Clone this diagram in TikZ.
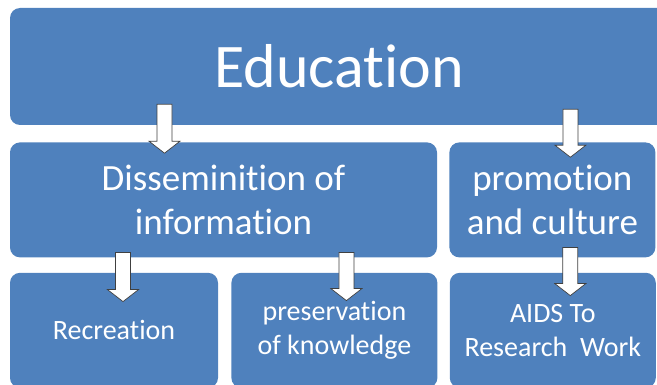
\documentclass[tikz,border=0pt]{standalone}
\usepackage{fontspec}
\setmainfont[Ligatures=NoCommon]{Carlito}
\usetikzlibrary{positioning,calc}

\definecolor{boxblue}{HTML}{4F81BD}
\definecolor{arrowline}{HTML}{404040}

% block arrow from start coordinate #1 down to tip coordinate #2
\newcommand{\blockarr}[2]{\draw[blockarrow] ($(#1)+(-7.5,0)$) -- ($(#2)+(-7.5,12)$) -- ($(#2)+(-15.5,12)$) -- (#2) -- ($(#2)+(15.5,12)$) -- ($(#2)+(7.5,12)$) -- ($(#1)+(7.5,0)$) -- cycle;}

\begin{document}
\begin{tikzpicture}[x=1pt,y=1pt]

	\tikzstyle{box}=[rectangle,rounded corners=10pt,fill=boxblue,text=white,align=center,inner sep=0pt,minimum height=115pt]
	\tikzstyle{blockarrow}=[fill=white,draw=arrowline,line width=0.7pt,line join=miter]
	\tikzstyle{big}=[font=\fontsize{62}{74}\selectfont]
	\tikzstyle{mid}=[font=\fontsize{37}{44}\selectfont]
	\tikzstyle{small}=[font=\fontsize{28}{34}\selectfont]

	\useasboundingbox (0,0) rectangle (657,-385);
	\clip (0,0) rectangle (657,-385);

	\node [box,big,minimum width=658pt,minimum height=117pt] (edu) at (339,-66.5) {Education};

	\node [box,mid,minimum width=427pt,below=17pt of edu.south west,anchor=north west] (dis) {Disseminition of\\information};
	\node [box,mid,minimum width=206pt,right=12pt of dis.north east,anchor=north west] (pro) {promotion\\and culture};

	\node [box,small,minimum width=208pt,below=15pt of dis.south west,anchor=north west] (rec) {Recreation};
	\node [box,small,minimum width=206pt,right=13pt of rec.north east,anchor=north west] (pre) {preservation\\of knowledge};
	\node [box,small,minimum width=206pt,right=12pt of pre.north east,anchor=north west] (aids) {AIDS To\\Research~ Work};

	% arrow ends
	\coordinate (s1) at ([xshift=-59pt,yshift=38pt]dis.north);
	\coordinate (t1) at ([xshift=-59pt,yshift=-11pt]dis.north);
	\coordinate (s2) at ([xshift=18pt,yshift=33pt]pro.north);
	\coordinate (t2) at ([xshift=18pt,yshift=-15pt]pro.north);
	\coordinate (s3) at ([xshift=9pt,yshift=20pt]rec.north);
	\coordinate (t3) at ([xshift=9pt,yshift=-29pt]rec.north);
	\coordinate (s4) at ([xshift=12pt,yshift=20pt]pre.north);
	\coordinate (t4) at ([xshift=12pt,yshift=-28pt]pre.north);
	\coordinate (s5) at ([xshift=17.5pt,yshift=25pt]aids.north);
	\coordinate (t5) at ([xshift=17.5pt,yshift=-23pt]aids.north);

	\blockarr{s1}{t1}
	\blockarr{s2}{t2}
	\blockarr{s3}{t3}
	\blockarr{s4}{t4}
	\blockarr{s5}{t5}

\end{tikzpicture}
\end{document}
